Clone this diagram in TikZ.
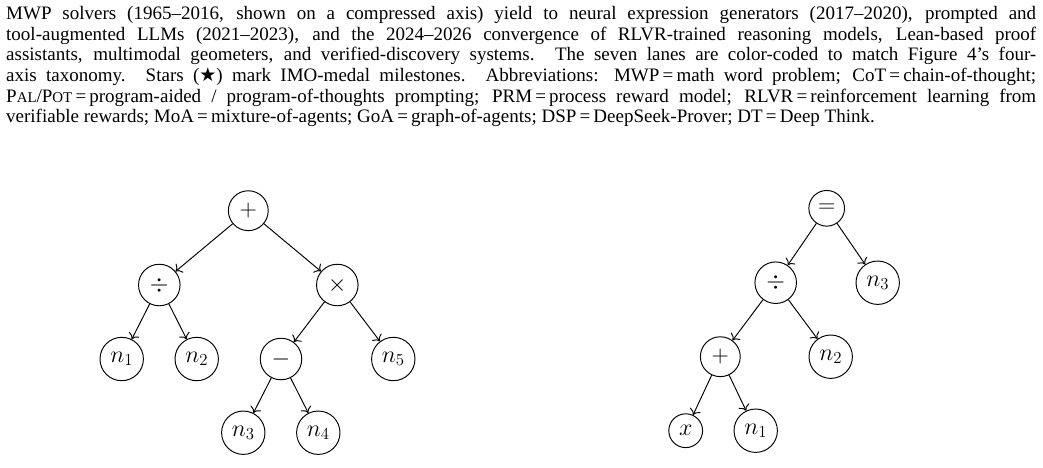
\RequirePackage{fix-cm}
\documentclass[tikz,border=0pt]{standalone}
\usepackage[no-math]{fontspec}
\setmainfont{Liberation Serif}
\newfontfamily\dejavu{DejaVu Sans}
\usetikzlibrary{arrows.meta}
\newcommand{\fsc}[1]{{\fontsize{14.9}{16}\selectfont #1}}
\begin{document}
\begin{tikzpicture}[x=1pt,y=-1pt,
  capline/.style={anchor=base west, inner sep=0pt, font=\fontsize{19}{20.7}\selectfont},
  tn/.style={circle, draw, line width=0.96pt, inner sep=6pt, font=\fontsize{24}{28}\selectfont},
  tedge/.style={-{To[scale=1.5]}, line width=0.96pt}]
\useasboundingbox (0,0) rectangle (1043,467);
% caption lines
\node[capline] (l1) at (6,19.3) {\makebox[1030pt][s]{MWP solvers (1965--2016, shown on a compressed axis) yield to neural expression generators (2017--2020), prompted and}};
\node[capline] (l2) at (6,40) {\makebox[1030pt][s]{tool-augmented LLMs (2021--2023), and the 2024--2026 convergence of RLVR-trained reasoning models, Lean-based proof}};
\node[capline] (l3) at (6,60.7) {\makebox[1030pt][s]{assistants, multimodal geometers, and verified-discovery systems. The seven lanes are color-coded to match Figure 4's four-}};
\node[capline] (l4) at (6,81.4) {\makebox[1030pt][s]{axis taxonomy. Stars ({\dejavu ★}) mark IMO-medal milestones. Abbreviations: MWP\,=\,math word problem; CoT\,=\,chain-of-thought;}};
\node[capline] (l5) at (6,102.1) {\makebox[1030pt][s]{P\fsc{AL}/P\fsc{OT}\,=\,program-aided / program-of-thoughts prompting; PRM\,=\,process reward model; RLVR\,=\,reinforcement learning from}};
\node[capline] (l6) at (6,122.8) {verifiable rewards; MoA\,=\,mixture-of-agents; GoA\,=\,graph-of-agents; DSP\,=\,DeepSeek-Prover; DT\,=\,Deep Think.};
% left tree
\node[tn] (a) at (248.3,210.7) {$+$};
\node[tn] (b) at (159.3,285) {$\div$};
\node[tn] (c) at (337.3,285) {$\times$};
\node[tn] (d) at (121.7,359) {$n_1$};
\node[tn] (e) at (196.7,359) {$n_2$};
\node[tn] (f) at (281,359) {$-$};
\node[tn] (g) at (393.3,359) {$n_5$};
\node[tn] (h) at (243.3,432.7) {$n_3$};
\node[tn] (i) at (318.3,432.7) {$n_4$};
\draw[tedge] (a) -- (b);
\draw[tedge] (a) -- (c);
\draw[tedge] (b) -- (d);
\draw[tedge] (b) -- (e);
\draw[tedge] (c) -- (f);
\draw[tedge] (c) -- (g);
\draw[tedge] (f) -- (h);
\draw[tedge] (f) -- (i);
% right tree
\node[tn] (p) at (826.7,208.3) {$=$};
\node[tn] (q) at (775.7,282.7) {$\div$};
\node[tn] (r) at (877.7,282.7) {$n_3$};
\node[tn] (s) at (720.3,356.7) {$+$};
\node[tn] (t) at (830.7,356.7) {$n_2$};
\node[tn] (u) at (685.7,430.7) {$x$};
\node[tn] (v) at (755.7,430.7) {$n_1$};
\draw[tedge] (p) -- (q);
\draw[tedge] (p) -- (r);
\draw[tedge] (q) -- (s);
\draw[tedge] (q) -- (t);
\draw[tedge] (s) -- (u);
\draw[tedge] (s) -- (v);
\end{tikzpicture}
\end{document}
